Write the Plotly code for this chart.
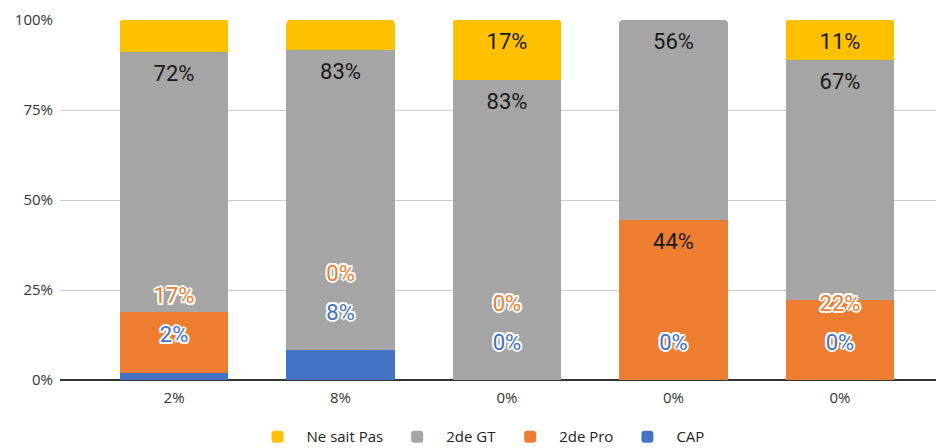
import plotly.graph_objects as go

# ---- data (percent of each group) ----
x_labels = ["2%", "8%", "0%", "0%", "0%"]
cap = [2.0, 8.3, 0.0, 0.0, 0.0]
pro = [17.0, 0.0, 0.0, 44.4, 22.2]
gt = [72.0, 83.3, 83.3, 55.6, 66.7]
nsp = [9.0, 8.3, 16.7, 0.0, 11.1]
y_ticks = [0, 25, 50, 75, 100]
y_ticktext = ["0%", "25%", "50%", "75%", "100%"]

series_names = ["CAP", "2de Pro", "2de GT", "Ne sait Pas"]
colors = {"CAP": "#4472C4", "2de Pro": "#ED7D31", "2de GT": "#A5A5A5", "Ne sait Pas": "#FFC000"}

xs = list(range(len(x_labels)))
FONT = "Roboto, Arial, sans-serif"
AXFONT = "'Open Sans', Arial, sans-serif"
HALO = ("white 2px 0px 0px, white -2px 0px 0px, white 0px 2px 0px, white 0px -2px 0px, "
        "white 1.5px 1.5px 0px, white -1.5px 1.5px 0px, white 1.5px -1.5px 0px, white -1.5px -1.5px 0px")

fig = go.Figure()
for name, vals in zip(series_names, [cap, pro, gt, nsp]):
    fig.add_trace(go.Bar(
        x=xs, y=vals, name=name, marker=dict(color=colors[name], line=dict(width=0)),
        width=0.65, hoverinfo="skip",
    ))

# ---- label placement (inside-end, with small labels pushed upward) ----
END_OFF = 6.4   # inside-end offset (in %)
MIN_OFF = 10.0  # label above a tiny segment
STEP = 10.8     # spacing between stacked small labels

fmt = lambda v: f"{round(v):.0f}%"

inside_x, inside_y, inside_t = [], [], []
cap_y, cap_t = [], []
proh_x, proh_y, proh_t = [], [], []
for i in xs:
    c1 = cap[i]
    c2 = c1 + pro[i]
    c3 = c2 + gt[i]
    c4 = c3 + nsp[i]
    cy = c1 + MIN_OFF
    cap_y.append(cy)
    cap_t.append(fmt(cap[i]))
    py_end = c2 - END_OFF
    py_push = cy + STEP
    if py_end >= py_push:
        inside_x.append(i); inside_y.append(py_end); inside_t.append(fmt(pro[i]))
    else:
        proh_x.append(i); proh_y.append(py_push); proh_t.append(fmt(pro[i]))
    inside_x.append(i); inside_y.append(c3 - END_OFF); inside_t.append(fmt(gt[i]))
    if nsp[i] >= 10:
        inside_x.append(i); inside_y.append(c4 - END_OFF); inside_t.append(fmt(nsp[i]))

LBL = 22
fig.add_trace(go.Scatter(
    x=inside_x, y=inside_y, text=inside_t, mode="text", showlegend=False, hoverinfo="skip",
    textfont=dict(family=FONT, size=LBL, color="#1a1a1a"), textposition="middle center"))
fig.add_trace(go.Scatter(
    x=xs, y=cap_y, text=cap_t, mode="text", showlegend=False, hoverinfo="skip",
    textfont=dict(family=FONT, size=LBL, color=colors["CAP"], shadow=HALO), textposition="middle center"))
fig.add_trace(go.Scatter(
    x=proh_x, y=proh_y, text=proh_t, mode="text", showlegend=False, hoverinfo="skip",
    textfont=dict(family=FONT, size=LBL, color=colors["2de Pro"], shadow=HALO), textposition="middle center"))

# page body has an 8px margin, so the figure is sized 936x440 and offset by the browser
fig.update_layout(
    width=936, height=440,
    barmode="stack", barcornerradius=3,
    margin=dict(l=52, r=0, t=12, b=68, autoexpand=False),
    paper_bgcolor="white", plot_bgcolor="white",
    font=dict(family=AXFONT, size=15, color="#333333"),
    legend=dict(orientation="h", x=0.474, xanchor="center", y=-0.158, yanchor="middle",
                itemwidth=48,
                traceorder="reversed", font=dict(family=AXFONT, size=15, color="#222222")),
    xaxis=dict(tickvals=xs, ticktext=x_labels, range=[-0.685, 4.625], showgrid=False,
               zeroline=False, showline=False, automargin=False, ticklabelstandoff=7,
               tickfont=dict(family=AXFONT, size=15, color="#333333")),
    yaxis=dict(range=[0, 100], tickvals=y_ticks, ticktext=y_ticktext, automargin=False,
               showgrid=True, gridcolor="#cccccc", gridwidth=1, zeroline=True,
               zerolinecolor="#333333", zerolinewidth=1.5, ticklabelstandoff=6,
               tickfont=dict(family=AXFONT, size=15, color="#333333")),
)

fig.write_html("out.html")
